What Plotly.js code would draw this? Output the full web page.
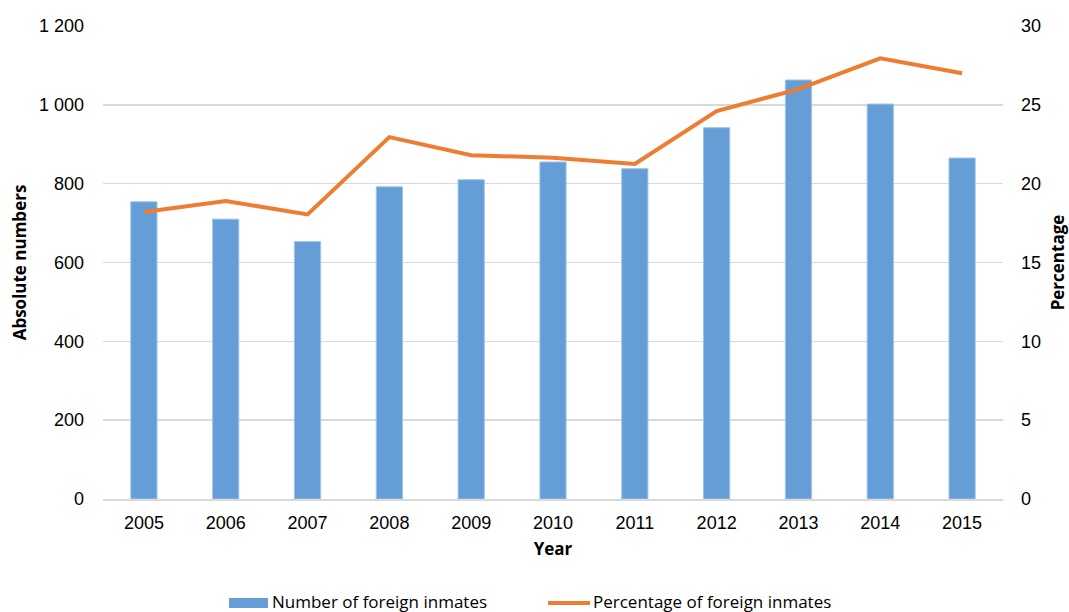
<!DOCTYPE html>
<html>
<head>
<meta charset="utf-8">
<script src="https://cdn.plot.ly/plotly-3.0.1.min.js"></script>
<style>html,body{margin:0;padding:0;background:#fff;}#chart{width:1069px;height:612px;}</style>
</head>
<body>
<div id="chart"></div>
<script>
const years = ['2005','2006','2007','2008','2009','2010','2011','2012','2013','2014','2015'];
const inmates = [754, 710, 653, 792, 810, 855, 838, 942, 1063, 1002, 865];
const percentage = [18.2, 18.9, 18.05, 22.95, 21.8, 21.65, 21.25, 24.6, 26.0, 27.95, 27.0];
const seriesNames = ['Number of foreign inmates', 'Percentage of foreign inmates'];

const blue = '#659ED6';
const orange = '#ED7D31';
const tickFont = {family: 'Liberation Sans, Arial, sans-serif', size: 18, color: '#000'};
const titleFont = {family: 'Open Sans, sans-serif', size: 17, color: '#000', weight: 'bold'};
const legendFont = {family: 'Open Sans, sans-serif', size: 17, color: '#000'};

const traces = [
  {type: 'bar', x: years, y: inmates, name: seriesNames[0], marker: {color: blue, line: {color: '#9CC3E6', width: 1}}, yaxis: 'y', hoverinfo: 'x+y'},
  {type: 'scatter', mode: 'lines', x: years, y: percentage, name: seriesNames[1], line: {color: orange, width: 4}, yaxis: 'y2'}
];

const layout = {
  width: 1069, height: 612,
  margin: {l: 103, r: 66, t: 26, b: 113},
  paper_bgcolor: '#fff', plot_bgcolor: '#fff',
  showlegend: false,
  bargap: 0.68,
  separators: '. ',
  xaxis: {
    type: 'category', tickfont: tickFont, showgrid: false, ticks: '',
    showline: true, linecolor: '#d9d9d9', linewidth: 2,
    ticklabelstandoff: 6,
    title: {text: 'Year', font: titleFont, standoff: 12}
  },
  yaxis: {
    range: [0, 1200], dtick: 200, tick0: 0, separatethousands: true,
    tickfont: tickFont, gridcolor: '#d9d9d9', gridwidth: 1.5, zeroline: false, ticks: '',
    ticklabelstandoff: 18,
    title: {text: 'Absolute numbers', font: titleFont, standoff: 8}
  },
  yaxis2: {
    range: [0, 30], dtick: 5, tick0: 0, overlaying: 'y', side: 'right',
    tickfont: tickFont, showgrid: false, zeroline: false, ticks: '',
    ticklabelstandoff: 17,
    title: {text: 'Percentage', font: titleFont, standoff: 20}
  },
  shapes: [
    {type: 'rect', xref: 'paper', yref: 'paper', x0: (229-103)/900, x1: (268-103)/900, y0: -(608-499)/473, y1: -(598-499)/473, fillcolor: blue, line: {width: 0}},
    {type: 'line', xref: 'paper', yref: 'paper', x0: (548-103)/900, x1: (590-103)/900, y0: -(603-499)/473, y1: -(603-499)/473, line: {color: orange, width: 4}}
  ],
  annotations: [
    {xref: 'paper', yref: 'paper', x: (270-103)/900, y: -(601-499)/473, xanchor: 'left', yanchor: 'middle', showarrow: false, text: seriesNames[0], font: legendFont},
    {xref: 'paper', yref: 'paper', x: (591-103)/900, y: -(601-499)/473, xanchor: 'left', yanchor: 'middle', showarrow: false, text: seriesNames[1], font: legendFont}
  ]
};

Plotly.newPlot('chart', traces, layout, {displayModeBar: false, staticPlot: true});
</script>
</body>
</html>
